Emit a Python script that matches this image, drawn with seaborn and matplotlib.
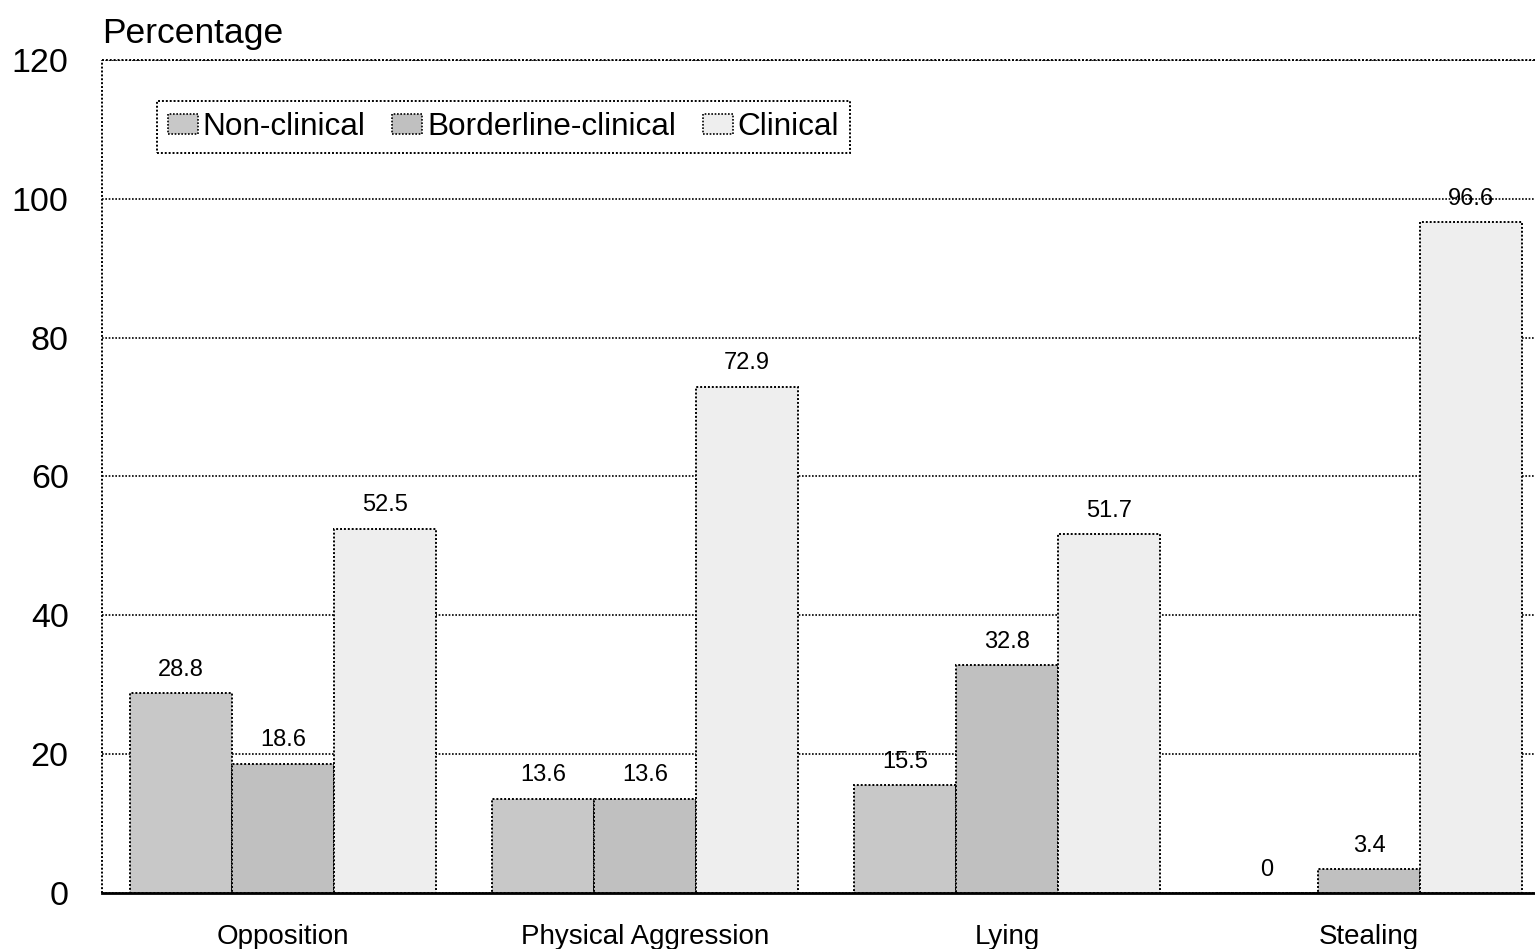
import matplotlib
matplotlib.use("Agg")
import matplotlib.pyplot as plt
import seaborn as sns
import pandas as pd
from matplotlib.patches import Patch

categories = ["Opposition", "Physical Aggression", "Lying", "Stealing"]
groups = ["Non-clinical", "Borderline-clinical", "Clinical"]
non_clinical = [28.8, 13.6, 15.5, 0]
borderline_clinical = [18.6, 13.6, 32.8, 3.4]
clinical = [52.5, 72.9, 51.7, 96.6]
y_ticks = [0, 20, 40, 60, 80, 100, 120]

colors = ["#c8c8c8", "#c0c0c0", "#eeeeee"]
dots = (0, (1, 1))

rows = []
for g, vals in zip(groups, [non_clinical, borderline_clinical, clinical]):
    for c, v in zip(categories, vals):
        rows.append({"Category": c, "Group": g, "Value": v})
df = pd.DataFrame(rows)

sns.set_theme(style="white")
plt.rcParams["font.family"] = ["Liberation Sans", "DejaVu Sans"]
plt.rcParams["text.color"] = "black"
plt.rcParams["xtick.color"] = "black"
plt.rcParams["ytick.color"] = "black"

fig = plt.figure(figsize=(15.35, 9.49), dpi=100)
ax = fig.add_axes([102 / 1535, 56 / 949, 1448 / 1535, 833 / 949])

sns.barplot(data=df, x="Category", y="Value", hue="Group", order=categories,
            hue_order=groups, palette=colors, width=0.845, gap=0,
            edgecolor="black", linewidth=1.4, linestyle=dots,
            legend=False, ax=ax, errorbar=None)

ax.set_ylim(0, 120)
ax.set_xlim(-0.5, 3.5)
ax.set_yticks(y_ticks)
ax.yaxis.grid(True, color="black", linestyle=dots, linewidth=1.2)
ax.set_axisbelow(True)
ax.tick_params(axis="y", labelsize=24.5, pad=24, length=0, labelcolor="black")
ax.tick_params(axis="x", labelsize=20, pad=22, length=0, labelcolor="black")
ax.set_xlabel("")
ax.set_ylabel("")

# dotted frame on the left and top, solid baseline at the bottom
for side in ["left", "top", "right"]:
    ax.spines[side].set_visible(False)
ax.plot([0, 0], [0, 1], transform=ax.transAxes, color="black",
        linestyle=dots, linewidth=1.4, clip_on=False, zorder=3)
ax.plot([0, 1], [1, 1], transform=ax.transAxes, color="black",
        linestyle=dots, linewidth=1.4, clip_on=False, zorder=3)
ax.spines["bottom"].set_color("black")
ax.spines["bottom"].set_linewidth(2)

# value labels above each bar
for container in ax.containers:
    ax.bar_label(container, labels=[f"{v:g}" for v in container.datavalues],
                 padding=9, fontsize=17, color="black")

ax.text(0.0, 1.012, "Percentage", transform=ax.transAxes, ha="left",
        va="bottom", fontsize=25.5, color="black")

handles = [Patch(facecolor=c, edgecolor="black", linestyle=dots,
                 linewidth=1.2, label=g) for c, g in zip(colors, groups)]
leg = ax.legend(handles=handles, loc="upper left",
                bbox_to_anchor=(0.038, 0.951), ncol=3, fontsize=22.7,
                handlelength=0.95, handleheight=0.6, handletextpad=0.15,
                columnspacing=0.85, borderpad=0.35, frameon=True,
                fancybox=False, borderaxespad=0, labelcolor="black")
frame = leg.get_frame()
frame.set_edgecolor("black")
frame.set_linestyle(dots)
frame.set_linewidth(1.4)
frame.set_alpha(1)

fig.savefig("out.png", dpi=100, facecolor="white")
